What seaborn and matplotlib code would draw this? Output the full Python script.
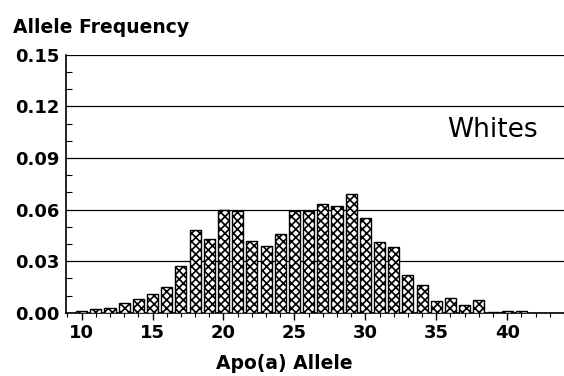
import matplotlib
matplotlib.use("Agg")
import matplotlib.pyplot as plt
from matplotlib.ticker import MultipleLocator
import seaborn as sns
import pandas as pd

alleles = list(range(10, 42))
freqs = [0.001, 0.002, 0.003, 0.006, 0.008, 0.011, 0.015, 0.027, 0.048, 0.043,
         0.060, 0.059, 0.042, 0.039, 0.046, 0.059, 0.059, 0.063, 0.062, 0.069,
         0.055, 0.041, 0.038, 0.022, 0.016, 0.007, 0.0087, 0.0043, 0.0077, 0.0004,
         0.0013, 0.0008]
y_ticks = [0.00, 0.03, 0.06, 0.09, 0.12, 0.15]
x_ticks = [10, 15, 20, 25, 30, 35, 40]

sns.set_theme(style="white")
plt.rcParams['font.family'] = ['DejaVu Sans']
plt.rcParams['hatch.linewidth'] = 1.2
for k in ['text.color', 'axes.labelcolor', 'xtick.color', 'ytick.color']:
    plt.rcParams[k] = 'black'

df = pd.DataFrame({"allele": alleles, "freq": freqs})

fig = plt.figure(figsize=(5.64, 3.76), dpi=100)
ax = fig.add_axes([0.117, 0.168, 0.883, 0.686])

sns.barplot(data=df, x="allele", y="freq", native_scale=True, width=0.78,
            color="white", edgecolor="black", linewidth=1.0, ax=ax, zorder=3)
for p in ax.patches:
    p.set_hatch("xxxx")
    p.set_facecolor("white")
    p.set_edgecolor("black")

ax.set_xlim(8.9, 44)
ax.set_ylim(0, 0.15)
ax.set_yticks(y_ticks)
ax.set_yticklabels([f"{v:.2f}" for v in y_ticks], fontsize=13, fontweight="bold")
ax.set_xticks(x_ticks)
ax.set_xticklabels([str(v) for v in x_ticks], fontsize=13, fontweight="bold")
ax.xaxis.set_minor_locator(MultipleLocator(1))
ax.yaxis.set_minor_locator(MultipleLocator(0.01))
ax.tick_params(axis="y", which="major", direction="in", length=0, pad=5)
ax.tick_params(axis="y", which="minor", direction="in", length=4, width=0.8, left=True)
ax.tick_params(axis="x", which="major", direction="out", length=5, width=1, bottom=True, pad=3)
ax.tick_params(axis="x", which="minor", direction="out", length=3, width=0.8, bottom=True)
ax.grid(axis="y", which="major", color="black", linewidth=0.9, zorder=0)
ax.set_axisbelow(True)

for s in ["top", "right"]:
    ax.spines[s].set_visible(False)
for s in ["left", "bottom"]:
    ax.spines[s].set_color("black")
    ax.spines[s].set_linewidth(1.2)

ax.set_xlabel("Apo(a) Allele", fontsize=13.5, fontweight="bold", labelpad=0)
ax.xaxis.set_label_coords(0.438, -0.16)
ax.set_ylabel("")
fig.text(0.023, 0.928, "Allele Frequency", fontsize=13.5, fontweight="bold", ha="left", va="center")
ax.text(0.857, 0.709, "Whites", transform=ax.transAxes, fontsize=19, ha="center", va="center")

fig.savefig("out.png", dpi=100)
